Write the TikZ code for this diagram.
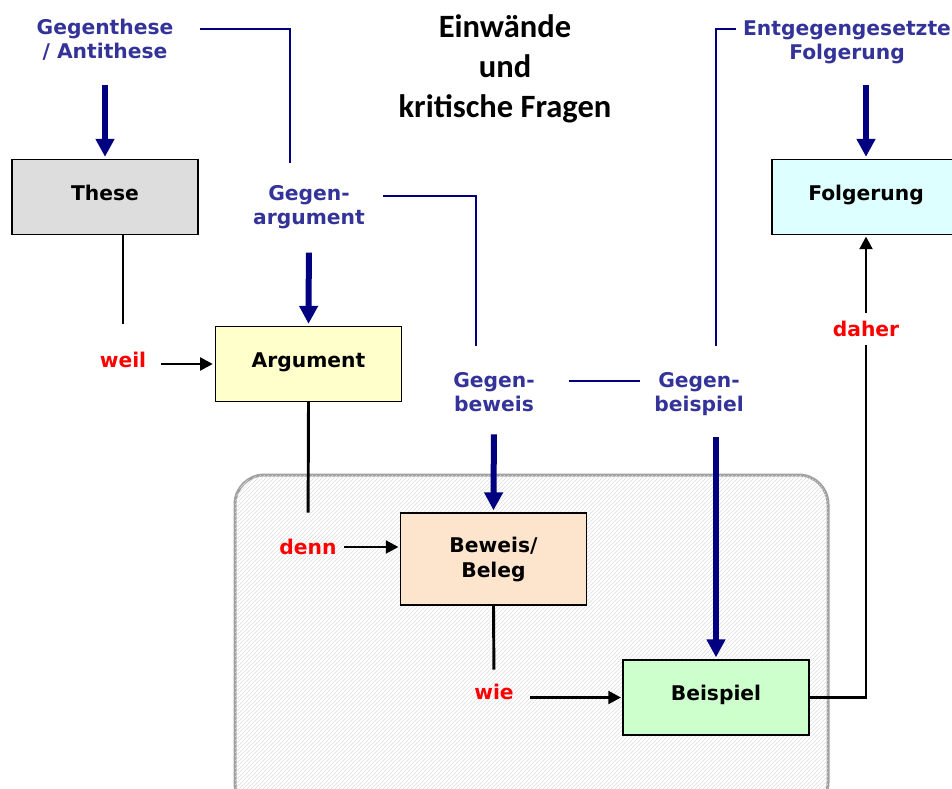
\documentclass[tikz,border=0pt]{standalone}
\usepackage{fontspec}
\setmainfont{DejaVu Sans}
\newfontfamily\titlefont{Carlito}
\usepackage{tikz}
\usetikzlibrary{arrows.meta}
\usetikzlibrary{patterns}

\definecolor{labelblue}{RGB}{51,51,153}
\definecolor{navyblue}{RGB}{0,0,128}
\definecolor{framegray}{RGB}{160,160,160}
\definecolor{hatchgray}{RGB}{222,222,222}
\definecolor{theseGray}{RGB}{221,221,221}
\definecolor{argYellow}{RGB}{255,255,204}
\definecolor{folgCyan}{RGB}{221,255,255}
\definecolor{bewPeach}{RGB}{253,229,205}
\definecolor{bspGreen}{RGB}{204,255,204}

\begin{document}
\begin{tikzpicture}[x=0.75pt,y=0.75pt,yscale=-1,xscale=1,
  box/.style={draw=black,line width=1pt,minimum width=139.5pt,minimum height=56.25pt,inner sep=0.75pt,align=center,font=\fontsize{15.2}{18.75}\selectfont\bfseries},
  oneline/.style={text height=0.75em,text depth=0.3em},
  bluelabel/.style={text=labelblue,inner sep=0.75pt,align=center,font=\fontsize{15.2}{18}\selectfont\bfseries},
  redlabel/.style={text=red,inner sep=0.75pt,font=\fontsize{15.2}{18}\selectfont\bfseries},
  thickarrow/.style={draw=navyblue,line width=4.5pt,-{Triangle[length=13.5pt,width=13.5pt]}},
  thinline/.style={draw=navyblue,line width=1.25pt},
  blackline/.style={draw=black,line width=2.2pt},
  blackarrow/.style={blackline,-{Triangle[length=9.5pt,width=9.5pt]}}]
\useasboundingbox (0,0) rectangle (952,788);

%Shape: Rounded Rect
\draw [draw=framegray,line width=2.25pt,rounded corners=22pt,fill=white,postaction={pattern=north east lines,pattern color=hatchgray}] (235,475) rectangle (828,812);

%Shape: Boxes
\node [box,oneline,fill=theseGray] (these) at (105,197) {These};
\node [box,oneline,fill=argYellow] (argument) at (308.5,364) {Argument};
\node [box,oneline,fill=folgCyan,minimum width=141pt] (folgerung) at (866,197) {Folgerung};
\node [box,fill=bewPeach,minimum height=69pt] (beweis) at (493.5,559) {Beweis/\\Beleg};
\node [box,oneline,fill=bspGreen] (beispiel) at (716,697.5) {Beispiel};

% Text Node
\node [font=\titlefont\fontsize{24.4}{30}\selectfont\bfseries,align=center,inner sep=0.75pt] (titel) at (505,68.5) {Einwände\\und\\kritische Fragen};
% Text Node
\node [bluelabel] (gegenthese) at (105,40) {Gegenthese\\/ Antithese};
% Text Node
\node [bluelabel] (gegenarg) at (309,207) {Gegen-\\argument};
% Text Node
\node [bluelabel] (gegenbeweis) at (494,392) {Gegen-\\beweis};
% Text Node
\node [bluelabel] (gegenbsp) at (699,394) {Gegen-\\beispiel};
% Text Node
\node [bluelabel] (entgegen) at (847,42) {Entgegengesetzte\\Folgerung};
% Text Node
\node [redlabel] (weil) at (123,360) {weil};
% Text Node
\node [redlabel] (denn) at (308,547) {denn};
% Text Node
\node [redlabel] (wie) at (494,692) {wie};

%Bends of the thin lines
\coordinate (k1) at (290,29);
\coordinate (k2) at (476,196);
\coordinate (k3) at (600,381);
\coordinate (k4) at (716,29);

%Thin blue lines
\draw [thinline,shorten <=19pt,shorten >=16pt] (gegenthese.east |- k1) -- (k1) -- (k1 |- gegenarg.north);
\draw [thinline,shorten <=13pt,shorten >=19pt] (gegenarg.east |- k2) -- (k2) -- (k2 |- gegenbeweis.north);
\draw [thinline,shorten <=25pt,shorten >=10pt] (gegenbeweis.east |- k3) -- (gegenbsp.west |- k3);
\draw [thinline,shorten <=19pt,shorten >=4pt] (k4 |- gegenbsp.north) -- (k4) -- (k4 -| entgegen.west);

%Thick blue arrows
\draw [thickarrow,shorten <=17pt,shorten >=1.5pt] (gegenthese.south) -- (these.north);
\draw [thickarrow,shorten <=17pt,shorten >=1.5pt] (gegenarg.south) -- (argument.north);
\draw [thickarrow,shorten <=16pt,shorten >=1.5pt] (gegenbeweis.south) -- (beweis.north);
\draw [thickarrow,shorten <=15pt,shorten >=1.5pt] (gegenbsp.south -| beispiel.north) -- (beispiel.north);
\draw [thickarrow,shorten <=15pt,shorten >=1.5pt] (entgegen.south -| folgerung.north) -- (folgerung.north);

%Black lines and arrows
\draw [blackline,shorten >=20pt] (weil.north |- these.south) -- (weil.north);
\draw [blackarrow,shorten <=10pt,shorten >=1.5pt] (weil.east |- argument.west) -- (argument.west);
\draw [blackline,shorten >=19pt] (argument.south) -- (denn.north);
\draw [blackarrow,shorten <=5pt,shorten >=1pt] (denn.east) -- (denn.east -| beweis.west);
\draw [blackline,shorten >=10pt] (beweis.south) -- (wie.north);
\draw [blackarrow,shorten <=11pt,shorten >=1pt] (wie.east |- beispiel.west) -- (beispiel.west);
\draw [blackarrow,shorten >=1pt] (beispiel.east) -| (folgerung.south);

% Text Node
\node [redlabel,fill=white,inner ysep=6pt] (daher) at (866,329) {daher};

\end{tikzpicture}
\end{document}
